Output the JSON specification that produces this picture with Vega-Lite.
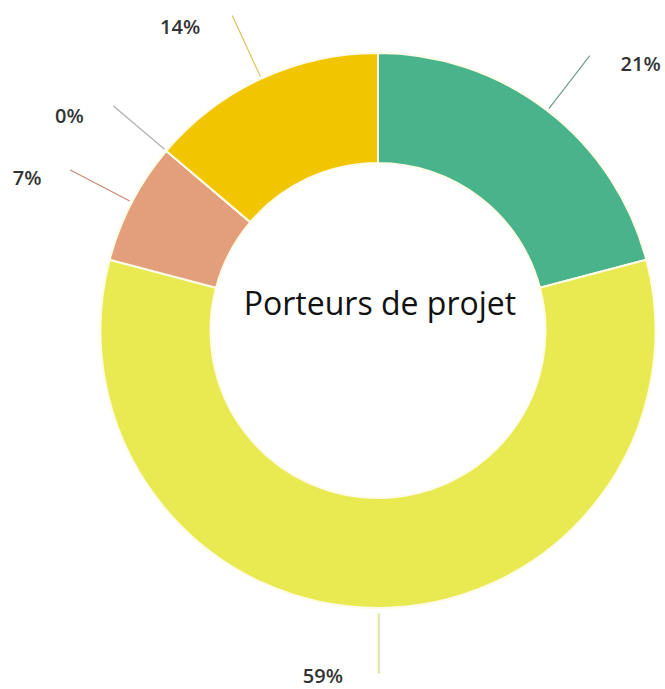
{
  "$schema": "https://vega.github.io/schema/vega-lite/v6.json",
  "autosize": "none",
  "width": 556,
  "height": 557,
  "padding": {"left": 100, "top": 52, "right": 9, "bottom": 80},
  "background": "white",
  "config": {"view": {"stroke": null}},
  "data": {
    "values": [
      {"cat": "A", "rank": 1, "value": 20.9, "label": "21%"},
      {"cat": "B", "rank": 2, "value": 58.2, "label": "59%"},
      {"cat": "C", "rank": 3, "value": 7.1, "label": "7%"},
      {"cat": "D", "rank": 4, "value": 0, "label": "0%"},
      {"cat": "E", "rank": 5, "value": 13.8, "label": "14%"}
    ]
  },
  "encoding": {
    "theta": {"field": "value", "type": "quantitative", "stack": true},
    "order": {"field": "rank", "type": "quantitative"}
  },
  "layer": [
    {
      "mark": {"type": "arc", "radius": 277.5, "radius2": 167.5, "stroke": "#fffbe6", "strokeWidth": 2},
      "encoding": {
        "color": {
          "field": "cat", "type": "nominal", "legend": null,
          "scale": {"domain": ["A", "B", "C", "D", "E"], "range": ["#49b38b", "#e9e952", "#e39e7b", "#bdbdbd", "#f1c500"]}
        }
      }
    },
    {
      "mark": {"type": "arc", "radius": 347, "radius2": 280, "padAngle": 3.14, "fill": null, "strokeWidth": 1.2},
      "encoding": {
        "stroke": {
          "field": "cat", "type": "nominal", "legend": null,
          "scale": {"domain": ["A", "B", "C", "D", "E"], "range": ["#6f9c8c", "#dfe49a", "#c98a70", "#b0b0b0", "#d9c760"]}
        },
        "strokeOpacity": {"condition": {"test": "datum.cat === 'B'", "value": 0}, "value": 1}
      }
    },
    {
      "mark": {"type": "text", "radius": 313, "angle": 90, "align": "center", "baseline": "middle", "font": "DejaVu Sans Mono", "fontSize": 20, "fill": "#dfe49a"},
      "encoding": {
        "text": {"condition": {"test": "datum.cat === 'B'", "value": "─────"}, "value": ""}
      }
    },
    {
      "mark": {"type": "text", "radius": 340, "align": "right", "baseline": "middle", "dx": -35, "dy": 6, "font": "Open Sans", "fontSize": 20, "fontWeight": 600, "fill": "#333333"},
      "encoding": {
        "text": {"condition": {"test": "datum.cat !== 'A'", "field": "label"}, "value": ""}
      }
    },
    {
      "mark": {"type": "text", "radius": 340, "align": "left", "baseline": "middle", "dx": 35, "dy": 4, "font": "Open Sans", "fontSize": 20, "fontWeight": 600, "fill": "#333333"},
      "encoding": {
        "text": {"condition": {"test": "datum.cat === 'A'", "field": "label"}, "value": ""}
      }
    },
    {
      "data": {"values": [{"t": "Porteurs de projet"}]},
      "mark": {"type": "text", "align": "center", "baseline": "alphabetic", "dy": -16, "dx": 2, "font": "Open Sans", "fontSize": 32, "fill": "#111111"},
      "encoding": {
        "theta": null,
        "order": null,
        "text": {"field": "t", "type": "nominal"}
      }
    }
  ]
}
